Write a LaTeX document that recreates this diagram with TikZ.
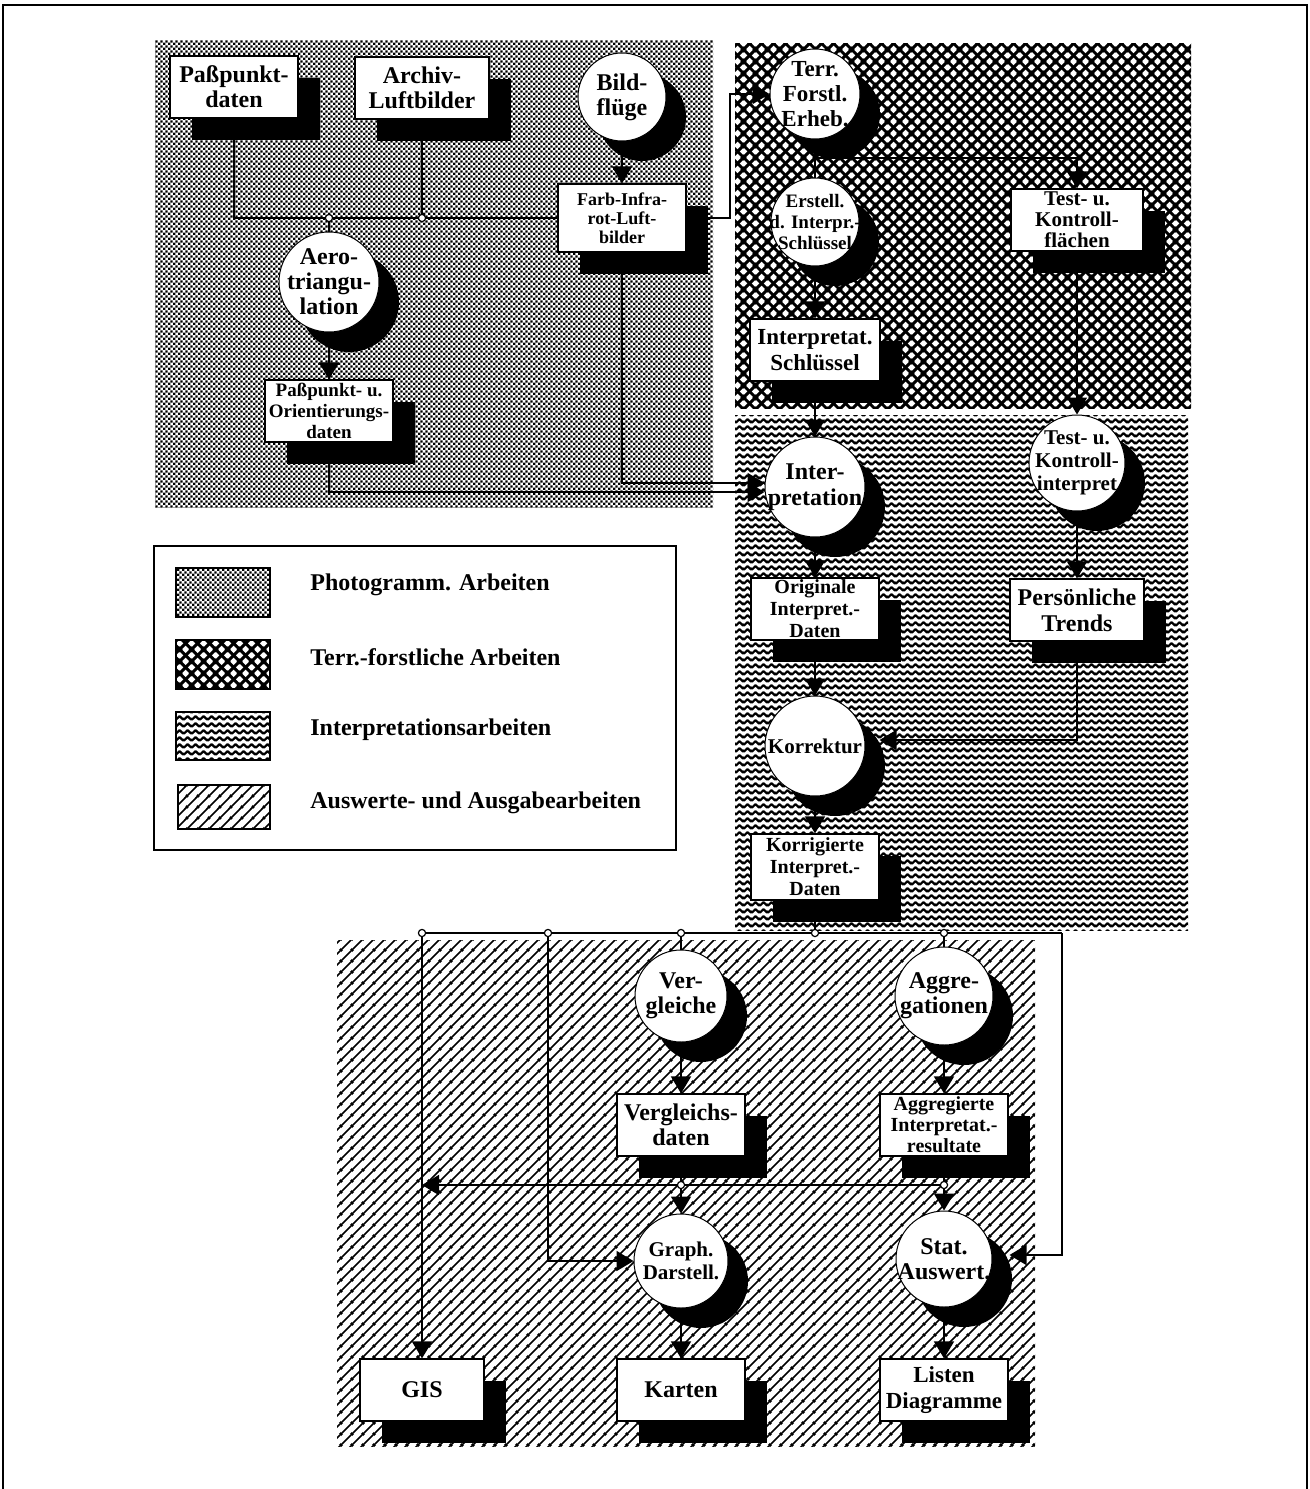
\documentclass[tikz,border=0pt]{standalone}
\usepackage{fontspec}
\setmainfont{Liberation Serif}
\usetikzlibrary{arrows.meta,shadows,patterns.meta,calc}

% Raster der Arbeitsbereiche
\tikzdeclarepattern{
  name=punktraster,
  tile size={(2.4pt,2.4pt)},
  bounding box={(0pt,0pt) and (2.4pt,2.4pt)},
  code={
    \fill (0pt,0pt) rectangle (1.2pt,1.2pt);
    \fill (1.2pt,1.2pt) rectangle (2.4pt,2.4pt);
  }
}
\tikzdeclarepattern{
  name=rautennetz,
  tile size={(6pt,6pt)},
  bounding box={(0pt,0pt) and (6pt,6pt)},
  code={
    \draw[line width=1.6pt] (-6pt,-6pt) -- (12pt,12pt);
    \draw[line width=1.6pt] (-6pt,12pt) -- (12pt,-6pt);
    \draw[line width=1.6pt] (-6pt,6pt) -- (6pt,-6pt);
    \draw[line width=1.6pt] (0pt,12pt) -- (12pt,0pt);
    \draw[line width=1.6pt] (-6pt,0pt) -- (6pt,12pt);
    \draw[line width=1.6pt] (0pt,-6pt) -- (12pt,6pt);
  }
}
\tikzdeclarepattern{
  name=wellen,
  tile size={(4pt,3.3pt)},
  bounding box={(0pt,0pt) and (4pt,3.3pt)},
  code={
    \draw[line width=1.2pt, line join=round] (-2pt,2.55pt) -- (0pt,0.75pt) -- (2pt,2.55pt) -- (4pt,0.75pt) -- (6pt,2.55pt);
  }
}
\tikzdeclarepattern{
  name=schraffur,
  tile size={(5.5pt,5.5pt)},
  bounding box={(0pt,0pt) and (5.5pt,5.5pt)},
  code={
    \draw[line width=0.9pt] (-5.5pt,-5.5pt) -- (11pt,11pt);
    \draw[line width=0.9pt] (0pt,-5.5pt) -- (11pt,5.5pt);
    \draw[line width=0.9pt] (-5.5pt,0pt) -- (5.5pt,11pt);
  }
}

\begin{document}
\begin{tikzpicture}[x=0.5pt,y=0.5pt,yscale=-1,xscale=1,
  gross/.style={font=\bfseries\fontsize{12}{12.5}\selectfont},
  mittel/.style={font=\bfseries\fontsize{10.5}{11.5}\selectfont},
  klein/.style={font=\bfseries\fontsize{9.5}{10.5}\selectfont},
  kasten/.style={draw, fill=white, line width=0.6pt, minimum width=64pt, minimum height=31pt,
    inner sep=0pt, align=center, gross,
    drop shadow={shadow xshift=11pt, shadow yshift=-11pt, fill=black, opacity=1}},
  kreis/.style={circle, draw, fill=white, line width=0.5pt, inner sep=-10pt, align=center, gross,
    drop shadow={shadow xshift=10pt, shadow yshift=-10pt, fill=black, opacity=1}},
  linie/.style={line width=0.9pt},
  pfeil/.style={line width=0.9pt, -{Triangle[width=10pt,length=8.5pt]}},
  knoten/.style={draw, fill=white, line width=0.6pt},
  muster/.style={draw, line width=0.8pt},
  legtext/.style={anchor=west, inner sep=0pt, font=\bfseries\fontsize{12}{14}\selectfont}]
\useasboundingbox (0,0) rectangle (1310,1489);

%Rahmen
\draw [line width=1.2pt] (3,1489) -- (3,5) -- (1307,5) -- (1307,1489);

%Arbeitsbereiche
\fill [pattern=punktraster] (155,40) rectangle (713,507);
\fill [pattern=rautennetz] (735,43) rectangle (1191,408);
\fill [pattern=wellen] (735,415) rectangle (1188,930);
\fill [pattern=schraffur] (337,940) rectangle (1035,1446);

%Legende
\draw [line width=0.9pt] (154,546) rectangle (676,850);
\draw [muster, pattern=punktraster] (176,568) rectangle (270,617);
\draw [muster, pattern=rautennetz] (176,640) rectangle (270,689);
\draw [muster, pattern=wellen] (176,712) rectangle (270,760);
\draw [muster, pattern=schraffur] (178,785) rectangle (270,829);
% Text Node
\draw (310,585) node [legtext] (legA) {Photogramm. Arbeiten};
% Text Node
\draw (310,657) node [legtext] (legB) {Terr.-forstliche Arbeiten};
% Text Node
\draw (310,730) node [legtext] (legC) {Interpretationsarbeiten};
% Text Node
\draw (310,803) node [legtext] (legD) {Auswerte- und Ausgabearbeiten};

% Photogramm. Arbeiten
\draw (234,87) node [kasten] (passdaten) {Paßpunkt-\\daten};
\draw (422,88) node [kasten, minimum width=67pt] (archiv) {Archiv-\\Luftbilder};
\draw (622,97) node [kreis, minimum size=44pt] (bildfluege) {Bild-\\flüge};
\draw (622,218) node [kasten, minimum height=34pt, font=\bfseries\fontsize{9}{9.5}\selectfont] (farbir) {Farb-Infra-\\rot-Luft-\\bilder};
\draw (329,282) node [kreis, minimum size=50pt] (aerotri) {Aero-\\triangu-\\lation};
\draw (329,411) node [kasten, klein] (passorient) {Paßpunkt- u.\\Orientierungs-\\daten};

% Terr.-forstliche Arbeiten
\draw (815,94) node [kreis, minimum size=45pt, font=\bfseries\fontsize{11.5}{12.5}\selectfont] (terr) {Terr.\\Forstl.\\Erheb.};
\draw (815,222) node [kreis, minimum size=44pt, font=\bfseries\fontsize{9.5}{10.5}\selectfont] (erstell) {Erstell.\\d. Interpr.-\\Schlüssel};
\draw (815,350) node [kasten, minimum width=65pt, font=\bfseries\fontsize{11.5}{13}\selectfont] (schluessel) {Interpretat.\\Schlüssel};
\draw (1077,220) node [kasten, minimum width=66pt, font=\bfseries\fontsize{10.5}{10.5}\selectfont] (testfl) {Test- u.\\Kontroll-\\flächen};

% Interpretationsarbeiten
\draw (815,487) node [kreis, minimum size=50pt, font=\bfseries\fontsize{12}{13}\selectfont] (interp) {Inter-\\pretation};
\draw (1077,463) node [kreis, minimum size=48pt, mittel] (testinterp) {Test- u.\\Kontroll-\\interpret};
\draw (815,609) node [kasten, font=\bfseries\fontsize{10}{11}\selectfont] (originale) {Originale\\Interpret.-\\Daten};
\draw (1077,610) node [kasten, minimum width=67pt, font=\bfseries\fontsize{12}{13}\selectfont] (trends) {Persönliche\\Trends};
\draw (815,746) node [kreis, minimum size=50pt, font=\bfseries\fontsize{10.5}{12}\selectfont] (korrektur) {Korrektur};
\draw (815,867) node [kasten, minimum height=33pt, font=\bfseries\fontsize{10}{11}\selectfont] (korrigiert) {Korrigierte\\Interpret.-\\Daten};

% Auswerte- und Ausgabearbeiten
\draw (681,996) node [kreis, minimum size=46pt] (vergl) {Ver-\\gleiche};
\draw (944,996) node [kreis, minimum size=49pt] (aggr) {Aggre-\\gationen};
\draw (681,1125) node [kasten] (vergldaten) {Vergleichs-\\daten};
\draw (944,1125) node [kasten, font=\bfseries\fontsize{10}{10.5}\selectfont] (aggrdaten) {Aggregierte\\Interpretat.-\\resultate};
\draw (681,1261) node [kreis, minimum size=47pt, mittel] (graph) {Graph.\\Darstell.};
\draw (944,1259) node [kreis, minimum size=48pt] (stat) {Stat.\\Auswert.};
\draw (422,1390) node [kasten, minimum width=62pt] (gis) {GIS};
\draw (681,1390) node [kasten] (karten) {Karten};
\draw (944,1390) node [kasten, font=\bfseries\fontsize{11.5}{13}\selectfont] (listen) {Listen\\Diagramme};

%Verbindungen oben
\draw [linie] (passdaten.south) |- (farbir.west);
\draw [linie] (archiv.south) -- (archiv.south |- farbir.west);
\draw [linie] (aerotri.north) -- (aerotri.north |- farbir.west);
\draw [pfeil] (aerotri.south) -- (passorient.north);
\draw [pfeil] (bildfluege.south) -- (farbir.north);
\draw [pfeil] (farbir.east) -- ++(43,0) |- (terr.west);
\draw [pfeil] (farbir.south) |- ($(interp.west)+(0,-4)$);
\draw [pfeil] (passorient.south) |- ($(interp.west)+(0,5)$);

%Verbindungen rechts
\coordinate (abzweig) at (815,158);
\draw [linie] (terr.south) -- (erstell.north);
\draw [pfeil] (abzweig) -| (testfl.north);
\draw [pfeil] (erstell.south) -- (schluessel.north);
\draw [pfeil] (schluessel.south) -- (interp.north);
\draw [pfeil] (testfl.south) -- (testinterp.north);
\draw [pfeil] (interp.south) -- (originale.north);
\draw [pfeil] (testinterp.south) -- (trends.north);
\draw [pfeil] (originale.south) -- (korrektur.north);
\draw [pfeil] (trends.south) |- ($(korrektur.east)+(14,-6)$);
\draw [pfeil] (korrektur.south) -- (korrigiert.north);

%Verbindungen unten
\coordinate (ja) at (422,933);
\coordinate (jb) at (548,933);
\coordinate (jd) at (815,933);
\coordinate (jf) at (1062,933);
\coordinate (jh) at (681,1185);
\coordinate (ji) at (944,1185);
\draw [linie] (korrigiert.south) -- (jd);
\draw [linie] (ja) -- (jf);
\draw [pfeil] (ja) -- (gis.north);
\draw [pfeil] (jb) |- (graph.west);
\draw [linie] (vergl.north) -- (vergl.north |- ja);
\draw [linie] (aggr.north) -- (aggr.north |- ja);
\draw [pfeil] (jf) |- ($(stat.east)+(17,-4)$);
\draw [pfeil] (vergl.south) -- (vergldaten.north);
\draw [pfeil] (aggr.south) -- (aggrdaten.north);
\draw [linie] (vergldaten.south) -- (jh);
\draw [linie] (aggrdaten.south) -- (ji);
\draw [pfeil] (ji) -- (ja |- ji);
\draw [pfeil] (jh) -- (graph.north);
\draw [pfeil] (ji) -- (stat.north);
\draw [pfeil] (graph.south) -- (karten.north);
\draw [pfeil] (stat.south) -- (listen.north);

%Verzweigungspunkte
\foreach \p in {(archiv.south |- farbir.west), (aerotri.north |- farbir.west), (ja), (jb), (vergl.north |- ja), (jd), (aggr.north |- ja), (jh), (ji)}
  \draw [knoten] \p circle (1.8pt);

\end{tikzpicture}
\end{document}
